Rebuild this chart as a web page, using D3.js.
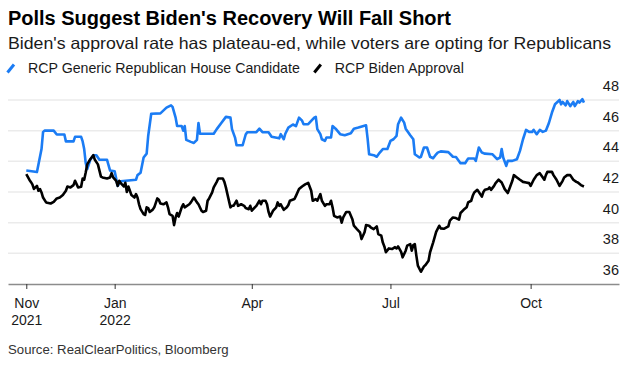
<!DOCTYPE html>
<html>
<head>
<meta charset="utf-8">
<script src="https://cdn.jsdelivr.net/npm/d3@7"></script>
<style>
  body { margin: 0; background: #fff; }
  svg { font-family: "Liberation Sans", Arial, sans-serif; display: block; }
</style>
</head>
<body>
<div id="chart"></div>
<script>
// RCP generic ballot, Republican House candidate (%)
const repDates = [
  "2021-11-04","2021-11-11","2021-11-14","2021-11-15","2021-11-16","2021-11-22","2021-11-24","2021-11-29","2021-11-30","2021-12-05",
  "2021-12-06","2021-12-10","2021-12-11","2021-12-12","2021-12-13","2021-12-14","2021-12-16","2021-12-18","2021-12-20","2021-12-22",
  "2021-12-27","2021-12-29","2022-01-01","2022-01-03","2022-01-05","2022-01-15","2022-01-16","2022-01-18","2022-01-20","2022-01-22",
  "2022-01-23","2022-01-25","2022-01-31","2022-02-04","2022-02-07","2022-02-08","2022-02-10","2022-02-11","2022-02-14","2022-02-15",
  "2022-02-16","2022-02-17","2022-02-20","2022-02-22","2022-02-24","2022-02-25","2022-02-26","2022-03-07","2022-03-09","2022-03-12",
  "2022-03-15","2022-03-18","2022-03-19","2022-03-21","2022-03-22","2022-03-26","2022-03-28","2022-03-29","2022-04-04","2022-04-06",
  "2022-04-08","2022-04-12","2022-04-14","2022-04-19","2022-04-20","2022-04-22","2022-04-23","2022-04-25","2022-04-28","2022-04-30",
  "2022-05-02","2022-05-04","2022-05-05","2022-05-08","2022-05-12","2022-05-13","2022-05-14","2022-05-16","2022-05-17","2022-05-19",
  "2022-05-20","2022-05-23","2022-05-24","2022-05-26","2022-05-29","2022-06-01","2022-06-05","2022-06-07","2022-06-10","2022-06-15",
  "2022-06-16","2022-06-17","2022-06-20","2022-06-22","2022-06-24","2022-06-26","2022-06-29","2022-07-01","2022-07-03","2022-07-05",
  "2022-07-06","2022-07-08","2022-07-10","2022-07-11","2022-07-14","2022-07-16","2022-07-17","2022-07-20","2022-07-21","2022-07-23",
  "2022-07-25","2022-07-27","2022-07-29","2022-07-31","2022-08-01","2022-08-03","2022-08-08","2022-08-11","2022-08-13","2022-08-16",
  "2022-08-19","2022-08-21","2022-08-25","2022-08-26","2022-08-28","2022-08-30","2022-09-01","2022-09-06","2022-09-09","2022-09-11",
  "2022-09-12","2022-09-13","2022-09-15","2022-09-16","2022-09-19","2022-09-22","2022-09-24","2022-09-26","2022-09-28","2022-09-30",
  "2022-10-02","2022-10-03","2022-10-05","2022-10-07","2022-10-09","2022-10-11","2022-10-13","2022-10-15","2022-10-17","2022-10-20",
  "2022-10-21","2022-10-22","2022-10-24","2022-10-25","2022-10-27","2022-10-29","2022-10-30","2022-11-01","2022-11-02","2022-11-04",
  "2022-11-05"
];
const repValues = [
  43.4,43.3,44.8,45.9,46.0,46.0,45.75,45.75,45.3,45.3,
  45.6,45.6,45.3,44.8,43.9,43.5,44.1,44.4,44.4,44.1,
  44.1,43.4,43.35,42.4,42.7,42.8,43.1,43.25,44.25,44.5,
  45.65,47.1,47.13,47.5,47.65,47.55,46.85,46.3,46.3,46.0,
  46.3,45.4,45.27,45.2,45.4,46.5,45.8,45.8,46.1,46.5,
  46.9,46.85,46.1,45.55,45.05,45.05,45.75,45.9,45.9,46.13,
  45.9,45.9,45.6,45.5,45.77,45.44,45.8,46.2,46.4,46.3,
  46.85,46.65,46.42,46.42,46.85,46.9,46.1,45.77,45.44,45.33,
  45.55,45.55,46.3,46.13,45.77,45.7,45.83,46.13,46.2,46.35,
  45.5,44.46,44.4,44.3,44.57,44.8,44.8,45.33,45.44,45.66,
  46.42,46.85,46.52,46.13,45.7,45.44,44.46,44.25,44.3,44.9,
  44.9,44.3,44.2,44.46,44.57,44.65,44.6,44.3,44.28,43.88,
  43.88,44.18,44.18,44.03,44.9,44.57,44.5,44.46,44.14,44.25,
  44.8,44.25,43.7,44.03,44.03,44.14,44.68,45.44,46.05,45.92,
  45.92,46.05,45.77,46.05,45.92,46.0,46.5,47.18,47.72,48.0,
  47.72,47.87,47.65,47.93,47.6,47.87,47.6,47.93,47.83,48.05,
  47.83
];

// RCP Biden approval (%)
const bidenDates = [
  "2021-11-04","2021-11-06","2021-11-07","2021-11-08","2021-11-09","2021-11-11","2021-11-12","2021-11-13","2021-11-14","2021-11-15",
  "2021-11-17","2021-11-20","2021-11-22","2021-11-24","2021-11-26","2021-11-28","2021-11-30","2021-12-01","2021-12-03","2021-12-05",
  "2021-12-06","2021-12-08","2021-12-10","2021-12-11","2021-12-12","2021-12-13","2021-12-14","2021-12-16","2021-12-18","2021-12-19",
  "2021-12-21","2021-12-23","2021-12-24","2021-12-27","2021-12-29","2021-12-30","2021-12-31","2022-01-02","2022-01-03","2022-01-04",
  "2022-01-05","2022-01-07","2022-01-08","2022-01-09","2022-01-10","2022-01-11","2022-01-12","2022-01-14","2022-01-15","2022-01-16",
  "2022-01-17","2022-01-18","2022-01-20","2022-01-21","2022-01-22","2022-01-23","2022-01-24","2022-01-26","2022-01-27","2022-01-29",
  "2022-01-30","2022-01-31","2022-02-02","2022-02-04","2022-02-05","2022-02-06","2022-02-08","2022-02-09","2022-02-10","2022-02-11",
  "2022-02-12","2022-02-14","2022-02-15","2022-02-16","2022-02-19","2022-02-20","2022-02-22","2022-02-24","2022-02-25","2022-02-27",
  "2022-02-28","2022-03-02","2022-03-03","2022-03-04","2022-03-06","2022-03-07","2022-03-09","2022-03-10","2022-03-13","2022-03-14",
  "2022-03-15","2022-03-16","2022-03-18","2022-03-19","2022-03-20","2022-03-22","2022-03-23","2022-03-25","2022-03-27","2022-03-28",
  "2022-03-30","2022-03-31","2022-04-01","2022-04-03","2022-04-04","2022-04-06","2022-04-07","2022-04-08","2022-04-10","2022-04-11",
  "2022-04-12","2022-04-13","2022-04-15","2022-04-17","2022-04-18","2022-04-19","2022-04-20","2022-04-22","2022-04-24","2022-04-25",
  "2022-04-26","2022-04-29","2022-04-30","2022-05-02","2022-05-04","2022-05-06","2022-05-08","2022-05-10","2022-05-11","2022-05-13",
  "2022-05-14","2022-05-16","2022-05-17","2022-05-19","2022-05-20","2022-05-22","2022-05-23","2022-05-24","2022-05-25","2022-05-27",
  "2022-05-29","2022-05-30","2022-05-31","2022-06-02","2022-06-04","2022-06-06","2022-06-07","2022-06-09","2022-06-11","2022-06-12",
  "2022-06-14","2022-06-15","2022-06-17","2022-06-18","2022-06-20","2022-06-22","2022-06-23","2022-06-25","2022-06-26","2022-06-27",
  "2022-06-28","2022-06-30","2022-07-02","2022-07-04","2022-07-05","2022-07-06","2022-07-08","2022-07-09","2022-07-11","2022-07-12",
  "2022-07-14","2022-07-15","2022-07-16","2022-07-17","2022-07-18","2022-07-19","2022-07-21","2022-07-23","2022-07-24","2022-07-26",
  "2022-07-27","2022-07-29","2022-07-31","2022-08-02","2022-08-03","2022-08-05","2022-08-08","2022-08-09","2022-08-11","2022-08-13",
  "2022-08-15","2022-08-16","2022-08-18","2022-08-20","2022-08-21","2022-08-23","2022-08-24","2022-08-25","2022-08-27","2022-08-28",
  "2022-08-30","2022-08-31","2022-09-01","2022-09-03","2022-09-04","2022-09-05","2022-09-07","2022-09-08","2022-09-10","2022-09-12",
  "2022-09-14","2022-09-16","2022-09-17","2022-09-19","2022-09-20","2022-09-22","2022-09-24","2022-09-26","2022-09-28","2022-09-30",
  "2022-10-01","2022-10-03","2022-10-05","2022-10-07","2022-10-09","2022-10-10","2022-10-11","2022-10-12","2022-10-15","2022-10-16",
  "2022-10-18","2022-10-20","2022-10-22","2022-10-23","2022-10-25","2022-10-27","2022-10-29","2022-10-31","2022-11-01","2022-11-03",
  "2022-11-05"
];
const bidenValues = [
  43.16,42.8,42.66,42.5,42.2,42.4,42.08,42.19,41.97,41.64,
  41.32,41.25,41.36,41.58,41.64,41.8,42.08,42.36,42.3,42.45,
  42.73,42.3,42.34,42.88,42.8,43.27,43.8,44.14,44.4,44.1,
  43.8,43.0,42.95,42.88,42.95,43.23,42.95,42.73,42.4,42.73,
  42.58,42.36,42.6,42.0,42.36,42.08,41.8,41.64,41.86,41.64,
  41.2,40.88,40.56,40.5,41.0,40.95,40.7,40.85,41.0,41.58,
  41.5,41.25,41.2,41.32,41.0,40.56,40.45,39.84,40.34,40.63,
  40.4,41.0,41.2,41.0,41.2,41.32,41.64,41.32,41.2,40.78,
  40.7,40.78,41.43,41.58,41.97,42.3,42.66,42.88,42.88,42.66,
  42.3,41.86,41.0,41.1,41.1,41.43,41.1,41.2,41.1,40.95,
  40.88,41.1,40.78,41.0,41.1,41.43,41.2,41.43,41.43,41.2,
  40.7,40.4,40.78,41.0,41.32,41.1,41.2,40.84,41.0,41.15,
  41.43,41.54,41.75,42.19,42.36,42.5,42.6,42.08,41.43,41.54,
  41.43,41.86,41.43,41.1,41.2,41.2,41.43,41.0,40.45,40.34,
  40.4,40.0,40.35,40.7,40.7,40.23,39.8,39.58,39.37,38.93,
  39.37,39.84,39.8,39.7,39.58,39.76,39.26,39.15,38.7,38.45,
  38.07,38.32,38.28,38.4,38.32,38.45,38.1,37.74,38.17,38.5,
  38.6,38.17,38.54,38.6,37.85,37.2,36.8,37.15,37.24,37.52,
  38.07,38.7,39.4,39.8,39.63,39.6,39.76,40.13,40.34,40.3,
  40.2,40.63,40.84,41.0,41.32,41.43,41.75,41.97,42.14,42.0,
  41.7,42.0,42.14,42.19,42.3,42.14,42.4,42.58,42.8,42.62,
  42.19,41.93,42.19,42.73,43.1,42.95,42.8,42.66,42.62,42.58,
  42.4,42.8,43.1,43.23,42.95,42.8,43.1,43.31,43.31,43.1,
  42.8,42.4,42.73,42.95,43.1,43.1,42.8,42.66,42.62,42.45,
  42.36
];

const yTicks = [36, 38, 40, 42, 44, 46, 48];
const xTickDates = ["2021-11-04", "2022-01-01", "2022-04-01", "2022-07-01", "2022-10-01"];
const xTickLabels = [["Nov", "2021"], ["Jan", "2022"], ["Apr"], ["Jul"], ["Oct"]];

const seriesNames = ["RCP Generic Republican House Candidate", "RCP Biden Approval"];
const seriesColors = ["#1b7cf4", "#000000"];

const width = 633;
const height = 366;
const parse = d3.utcParse("%Y-%m-%d");

const svg = d3.select("#chart").append("svg")
  .attr("width", width)
  .attr("height", height);

const x = d3.scaleUtc()
  .domain([parse("2021-10-23"), parse("2022-11-28")])
  .range([8, 619]);

const y = d3.scaleLinear()
  .domain([36, 48])
  .range([284, 100]);

// titles
svg.append("text")
  .attr("x", 8).attr("y", 25)
  .attr("font-size", 20).attr("font-weight", "bold").attr("fill", "#000")
  .attr("textLength", 443).attr("lengthAdjust", "spacingAndGlyphs")
  .text("Polls Suggest Biden's Recovery Will Fall Short");

svg.append("text")
  .attr("x", 8).attr("y", 49)
  .attr("font-size", 16.5).attr("fill", "#1a1a1a")
  .attr("textLength", 603).attr("lengthAdjust", "spacingAndGlyphs")
  .text("Biden's approval rate has plateau-ed, while voters are opting for Republicans");

// legend
const legend = svg.append("g").attr("transform", "translate(7,72.5)");
let lx = 0;
seriesNames.forEach((name, i) => {
  const item = legend.append("g").attr("transform", `translate(${lx},0)`);
  item.append("line")
    .attr("x1", 0.5).attr("y1", 0).attr("x2", 7).attr("y2", -8)
    .attr("stroke", seriesColors[i]).attr("stroke-width", 3);
  const t = item.append("text")
    .attr("x", 21).attr("y", 0)
    .attr("font-size", 14.2).attr("fill", "#1a1a1a")
    .text(name);
  lx += 21 + t.node().getComputedTextLength() + 14;
});

// grid
svg.append("g")
  .selectAll("line")
  .data(yTicks.filter(d => d !== 36))
  .join("line")
  .attr("x1", 8).attr("x2", 619)
  .attr("y1", d => y(d)).attr("y2", d => y(d))
  .attr("stroke", "#ebebeb").attr("stroke-width", 1.5);

svg.append("g")
  .selectAll("text")
  .data(yTicks)
  .join("text")
  .attr("x", 619).attr("y", d => y(d) - 9)
  .attr("text-anchor", "end")
  .attr("font-size", 14.5).attr("fill", "#1a1a1a")
  .text(d => d);

// x axis
const xAxis = d3.axisBottom(x)
  .tickValues(xTickDates.map(parse))
  .tickSize(5)
  .tickSizeOuter(0)
  .tickFormat("");

const gx = svg.append("g")
  .attr("transform", `translate(0,${y(36)})`)
  .call(xAxis);
gx.select(".domain").attr("stroke", "#8c8c8c").attr("stroke-width", 1.5);
gx.selectAll(".tick line").attr("stroke", "#333");
gx.selectAll(".tick text").remove();
gx.selectAll(".tick").each(function(d, i) {
  const t = d3.select(this).append("text")
    .attr("fill", "#1a1a1a")
    .attr("font-size", 14)
    .attr("text-anchor", "middle");
  xTickLabels[i].forEach((s, j) => {
    t.append("tspan").attr("x", 0).attr("y", 24 + j * 17).text(s);
  });
});

// lines
const line = d3.line()
  .x(d => x(d.date))
  .y(d => y(d.value));

const series = [
  repDates.map((d, i) => ({ date: parse(d), value: repValues[i] })),
  bidenDates.map((d, i) => ({ date: parse(d), value: bidenValues[i] }))
];

svg.append("g")
  .selectAll("path")
  .data(series)
  .join("path")
  .attr("fill", "none")
  .attr("stroke", (d, i) => seriesColors[i])
  .attr("stroke-width", 2.6)
  .attr("stroke-linejoin", "round")
  .attr("d", line);

// source
svg.append("text")
  .attr("x", 8).attr("y", 354)
  .attr("font-size", 13.2).attr("fill", "#333")
  .text("Source: RealClearPolitics, Bloomberg");
</script>
</body>
</html>
